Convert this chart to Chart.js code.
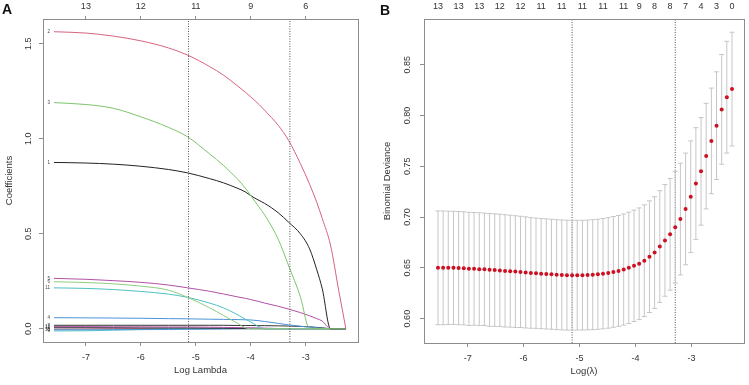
<!DOCTYPE html>
<html>
<head>
<meta charset="utf-8">
<script src="https://cdn.jsdelivr.net/npm/chart.js@4"></script>
<style>
  body { margin: 0; background: #fff; }
  #wrap { position: relative; width: 749px; height: 385px; }
  .panel { position: absolute; top: 0; height: 385px; }
</style>
</head>
<body>
<div id="wrap">
  <div class="panel" style="left:0;width:375px"><canvas id="coefChart" width="375" height="385"></canvas></div>
  <div class="panel" style="left:375px;width:374px"><canvas id="cvChart" width="374" height="385"></canvas></div>
</div>
<script>
// ---- panel A: coefficient paths ----
const coefLogLambda = [-7.58, -7.0, -6.5, -6.0, -5.5, -5.15, -4.75, -4.5, -4.25, -4.1, -4.0, -3.85, -3.75, -3.5, -3.31, -3.1, -2.93, -2.8, -2.7, -2.55, -2.4, -2.27]
const coef1 = [0.875, 0.872, 0.866, 0.855, 0.838, 0.82, 0.79, 0.768, 0.74, 0.72, 0.7, 0.675, 0.66, 0.61, 0.56, 0.5, 0.42, 0.31, 0.21, 0, 0, 0]
const coef2 = [1.563, 1.556, 1.54, 1.515, 1.478, 1.44, 1.38, 1.335, 1.28, 1.245, 1.22, 1.18, 1.15, 1.07, 0.99, 0.87, 0.76, 0.665, 0.58, 0.44, 0.2, 0]
const coef3 = [1.19, 1.18, 1.16, 1.115, 1.06, 1.01, 0.92, 0.86, 0.79, 0.74, 0.7, 0.64, 0.6, 0.47, 0.33, 0.17, 0, 0, 0, 0, 0, 0]
const coef4 = [0.058, 0.057, 0.056, 0.055, 0.053, 0.052, 0.05, 0.049, 0.048, 0.047, 0.046, 0.042, 0.038, 0.028, 0.02, 0.013, 0.008, 0.005, 0.003, 0, 0, 0]
const coef5 = [0.265, 0.26, 0.253, 0.244, 0.23, 0.215, 0.197, 0.183, 0.168, 0.16, 0.153, 0.143, 0.135, 0.118, 0.103, 0.085, 0.068, 0.053, 0.04, 0, 0, 0]
const coef6 = [0.247, 0.243, 0.236, 0.224, 0.203, 0.165, 0.11, 0.07, 0.03, 0.005, 0, 0, 0, 0, 0, 0, 0, 0, 0, 0, 0, 0]
const coef7 = [0.018, 0.018, 0.018, 0.018, 0.018, 0.018, 0.018, 0.018, 0.017, 0.017, 0.017, 0.016, 0.016, 0.015, 0.014, 0.012, 0.01, 0.007, 0.005, 0, 0, 0]
const coef8 = [-0.003, -0.002, 0, 0, 0, 0, 0, 0, 0, 0, 0, 0, 0, 0, 0, 0, 0, 0, 0, 0, 0, 0]
const coef9 = [-0.012, -0.011, -0.008, -0.004, 0, 0, 0, 0, 0, 0, 0, 0, 0, 0, 0, 0, 0, 0, 0, 0, 0, 0]
const coef10 = [-0.006, -0.006, -0.005, -0.005, -0.004, -0.003, -0.002, -0.001, 0, 0, 0, 0, 0, 0, 0, 0, 0, 0, 0, 0, 0, 0]
const coef11 = [0.215, 0.212, 0.206, 0.196, 0.182, 0.165, 0.135, 0.11, 0.075, 0.05, 0.035, 0.01, 0, 0, 0, 0, 0, 0, 0, 0, 0, 0]
const coef12 = [0.011, 0.011, 0.01, 0.01, 0.009, 0.009, 0.008, 0.007, 0.006, 0.005, 0.005, 0.004, 0.003, 0.001, 0, 0, 0, 0, 0, 0, 0, 0]
const coef13 = [0.005, 0.005, 0.005, 0.004, 0.004, 0.004, 0.003, 0.003, 0.002, 0.001, 0.001, 0.001, 0, 0, 0, 0, 0, 0, 0, 0, 0, 0]
const coefXTicks = [-7, -6, -5, -4, -3]
const coefTopLabels = ['13', '12', '11', '9', '6']
const coefYTicks = [0, 0.5, 1, 1.5]

// lambda.min and lambda.1se
const cutoffs = [-5.133, -3.289]

// ---- panel B: cross-validation ----
const cvLogLambda = [-7.530, -7.438, -7.346, -7.253, -7.161, -7.069, -6.977, -6.885, -6.792, -6.700,
  -6.608, -6.516, -6.424, -6.331, -6.239, -6.147, -6.055, -5.963, -5.870, -5.778,
  -5.686, -5.594, -5.502, -5.409, -5.317, -5.225, -5.133, -5.041, -4.948, -4.856,
  -4.764, -4.672, -4.580, -4.487, -4.395, -4.303, -4.211, -4.119, -4.026, -3.934,
  -3.842, -3.750, -3.658, -3.565, -3.473, -3.381, -3.289, -3.197, -3.104, -3.012,
  -2.920, -2.828, -2.736, -2.643, -2.551, -2.459, -2.367, -2.274]
const cvMean = [0.6500, 0.6500, 0.6500, 0.6500, 0.6498, 0.6495, 0.6490, 0.6490, 0.6487, 0.6485,
  0.6480, 0.6478, 0.6475, 0.6470, 0.6467, 0.6463, 0.6460, 0.6455, 0.6450, 0.6447,
  0.6443, 0.6440, 0.6437, 0.6433, 0.6430, 0.6428, 0.6427, 0.6428, 0.6428, 0.6430,
  0.6433, 0.6437, 0.6443, 0.6450, 0.6460, 0.6470, 0.6483, 0.6500, 0.6520, 0.6540,
  0.6570, 0.6610, 0.6650, 0.6710, 0.6770, 0.6830, 0.6900, 0.6980, 0.7080, 0.7200,
  0.7330, 0.7450, 0.7600, 0.7750, 0.7900, 0.8060, 0.8180, 0.8260]
const cvUpper = [0.7060, 0.7060, 0.7058, 0.7057, 0.7055, 0.7052, 0.7047, 0.7045, 0.7042, 0.7038,
  0.7035, 0.7032, 0.7028, 0.7023, 0.7018, 0.7013, 0.7008, 0.7002, 0.6995, 0.6990,
  0.6985, 0.6982, 0.6978, 0.6974, 0.6971, 0.6969, 0.6967, 0.6968, 0.6968, 0.6970,
  0.6974, 0.6979, 0.6986, 0.6994, 0.7005, 0.7016, 0.7030, 0.7048, 0.7068, 0.7090,
  0.7120, 0.7160, 0.7200, 0.7260, 0.7320, 0.7380, 0.7450, 0.7530, 0.7630, 0.7750,
  0.7880, 0.7980, 0.8120, 0.8270, 0.8430, 0.8600, 0.8730, 0.8820]
const cvLower = [0.5940, 0.5940, 0.5942, 0.5943, 0.5941, 0.5938, 0.5933, 0.5935, 0.5932, 0.5932,
  0.5925, 0.5924, 0.5922, 0.5917, 0.5916, 0.5913, 0.5912, 0.5908, 0.5905, 0.5904,
  0.5901, 0.5898, 0.5896, 0.5892, 0.5889, 0.5887, 0.5887, 0.5888, 0.5888, 0.5890,
  0.5892, 0.5895, 0.5900, 0.5906, 0.5915, 0.5924, 0.5936, 0.5952, 0.5972, 0.5990,
  0.6020, 0.6060, 0.6100, 0.6160, 0.6220, 0.6280, 0.6350, 0.6430, 0.6530, 0.6650,
  0.6780, 0.6920, 0.7080, 0.7230, 0.7370, 0.7520, 0.7630, 0.7700]
const cvTopIndex = [0, 4, 8, 12, 16, 20, 24, 28, 32, 36, 39, 42, 45, 48, 51, 54, 57]
const cvTopLabels = ['13', '13', '13', '12', '12', '11', '11', '11', '11', '11', '9', '8', '8', '7', '4', '3', '0']
const cvXTicks = [-7, -6, -5, -4, -3]
const cvYTicks = [0.6, 0.65, 0.7, 0.75, 0.8, 0.85]

const FONT = '"Liberation Sans", Arial, sans-serif'
const TXT = '#333'

// box round the plot, R style
const frameBox = {
  id: 'frameBox',
  afterDraw(chart) {
    const { ctx, chartArea: a } = chart
    ctx.save()
    ctx.strokeStyle = '#8c8c8c'
    ctx.lineWidth = 1
    ctx.strokeRect(Math.round(a.left) + 0.5, Math.round(a.top) + 0.5,
      Math.round(a.right - a.left), Math.round(a.bottom - a.top))
    ctx.restore()
  }
}

// y tick labels turned 90deg, plus the panel letter
const sideText = {
  id: 'sideText',
  afterDraw(chart, args, opts) {
    const ctx = chart.ctx
    const y = chart.scales.y
    ctx.save()
    ctx.font = '9px ' + FONT
    ctx.fillStyle = TXT
    ctx.textAlign = 'center'
    ctx.textBaseline = 'middle'
    y.ticks.forEach((t) => {
      const py = y.getPixelForValue(t.value)
      ctx.save()
      ctx.translate(opts.x, py)
      ctx.rotate(-Math.PI / 2)
      ctx.fillText(t.value.toFixed(opts.digits), 0, 0)
      ctx.restore()
    })
    ctx.font = 'bold 14px ' + FONT
    ctx.fillStyle = '#111'
    ctx.textAlign = 'left'
    ctx.textBaseline = 'alphabetic'
    ctx.fillText(opts.letter, opts.lx, opts.ly)
    ctx.restore()
  }
}

// tiny variable numbers at the left end of each path
const pathTags = {
  id: 'pathTags',
  afterDatasetsDraw(chart) {
    const ctx = chart.ctx
    ctx.save()
    ctx.font = '4.5px ' + FONT
    ctx.fillStyle = '#444'
    ctx.textAlign = 'right'
    ctx.textBaseline = 'middle'
    chart.data.datasets.forEach((ds, i) => {
      if (!ds.tag) return
      const p = chart.getDatasetMeta(i).data[0]
      ctx.fillText(ds.tag, p.x - 4, p.y)
    })
    ctx.restore()
  }
}

function fixedTicks(list) {
  return (axis) => { axis.ticks = list.map((v) => ({ value: v })) }
}

function cutoffLines(ymin, ymax) {
  return cutoffs.map((v) => ({
    data: [{ x: v, y: ymin }, { x: v, y: ymax }],
    showLine: true,
    borderColor: '#555',
    borderWidth: 1,
    borderDash: [1, 1.5],
    pointRadius: 0
  }))
}

// ---- chart A ----
const coefSeries = [
  { tag: '2', values: coef2, color: '#D6637C' },
  { tag: '3', values: coef3, color: '#7CC46C' },
  { tag: '1', values: coef1, color: '#222222' },
  { tag: '5', values: coef5, color: '#B04FA6' },
  { tag: '6', values: coef6, color: '#8ECB7E' },
  { tag: '11', values: coef11, color: '#4FBFC2' },
  { tag: '4', values: coef4, color: '#4A93D6' },
  { tag: '7', values: coef7, color: '#333333' },
  { tag: '12', values: coef12, color: '#B04FA6' },
  { tag: '13', values: coef13, color: '#222222' },
  { tag: '10', values: coef10, color: '#4A93D6' },
  { tag: '9', values: coef9, color: '#52C9CC' },
  { tag: '8', values: coef8, color: '#D6637C' }
]

const coefMin = -0.07, coefMax = 1.63

new Chart(document.getElementById('coefChart'), {
  type: 'scatter',
  data: {
    datasets: cutoffLines(coefMin, coefMax).concat(coefSeries.map((s) => ({
      tag: s.tag,
      data: s.values.map((v, i) => ({ x: coefLogLambda[i], y: v })),
      showLine: true,
      borderColor: s.color,
      borderWidth: 1,
      pointRadius: 0,
      cubicInterpolationMode: 'monotone'
    })))
  },
  options: {
    responsive: false,
    animation: false,
    events: [],
    layout: { padding: { left: 0, top: 0, right: 17, bottom: 0 } },
    plugins: {
      legend: { display: false },
      tooltip: { enabled: false },
      sideText: { x: 29, digits: 1, letter: 'A', lx: 2, ly: 14 }
    },
    scales: {
      x: {
        type: 'linear', position: 'bottom', min: -7.78, max: -2.05,
        afterBuildTicks: fixedTicks(coefXTicks),
        afterFit: (s) => { s.height = 43 },
        border: { display: false },
        grid: { drawOnChartArea: false, drawTicks: true, tickLength: 4, color: '#8c8c8c' },
        ticks: { color: TXT, font: { size: 9, family: FONT }, padding: 6, maxRotation: 0 },
        title: { display: true, text: 'Log Lambda', color: TXT, font: { size: 9.5, family: FONT }, padding: { top: 0, bottom: 9 } }
      },
      xTop: {
        axis: 'x', type: 'linear', position: 'top', min: -7.78, max: -2.05,
        afterBuildTicks: fixedTicks(coefXTicks),
        afterFit: (s) => { s.height = 19 },
        border: { display: false },
        grid: { drawOnChartArea: false, drawTicks: true, tickLength: 3, color: '#8c8c8c' },
        ticks: {
          color: TXT, font: { size: 9, family: FONT }, padding: 4, maxRotation: 0, autoSkip: false,
          callback: (v, i) => coefTopLabels[i]
        }
      },
      y: {
        type: 'linear', position: 'left', min: coefMin, max: coefMax,
        afterBuildTicks: fixedTicks(coefYTicks),
        afterFit: (s) => { s.width = 43 },
        border: { display: false },
        grid: { drawOnChartArea: false, drawTicks: true, tickLength: 4, color: '#8c8c8c' },
        ticks: { display: false },
        title: { display: true, text: 'Coefficients', color: TXT, font: { size: 9.5, family: FONT }, padding: { top: 4, bottom: 0 } }
      }
    }
  },
  plugins: [frameBox, sideText, pathTags]
})

// ---- chart B ----
// first dataset is painted last, so the red dots go first
let whiskers = []
cvLogLambda.forEach((x, i) => {
  whiskers.push({ x: x, y: cvLower[i] }, { x: x, y: cvUpper[i] }, { x: x, y: null })
})
const cvMin = 0.576, cvMax = 0.895

new Chart(document.getElementById('cvChart'), {
  type: 'scatter',
  data: {
    datasets: [
      {
        data: cvMean.map((v, i) => ({ x: cvLogLambda[i], y: v })),
        pointRadius: 2,
        backgroundColor: '#CC1122',
        borderWidth: 0
      },
      {
        data: whiskers,
        showLine: true,
        spanGaps: false,
        borderColor: '#c6c6c6',
        borderWidth: 1,
        pointRadius: 0
      },
      {
        data: cvUpper.map((v, i) => ({ x: cvLogLambda[i], y: v })),
        pointStyle: 'line',
        pointRadius: 2.5,
        borderColor: '#c6c6c6',
        borderWidth: 1
      },
      {
        data: cvLower.map((v, i) => ({ x: cvLogLambda[i], y: v })),
        pointStyle: 'line',
        pointRadius: 2.5,
        borderColor: '#c6c6c6',
        borderWidth: 1
      }
    ].concat(cutoffLines(cvMin, cvMax))
  },
  options: {
    responsive: false,
    animation: false,
    events: [],
    layout: { padding: { left: 0, top: 0, right: 4, bottom: 0 } },
    plugins: {
      legend: { display: false },
      tooltip: { enabled: false },
      sideText: { x: 33, digits: 2, letter: 'B', lx: 5, ly: 15 }
    },
    scales: {
      x: {
        type: 'linear', position: 'bottom', min: -7.78, max: -2.06,
        afterBuildTicks: fixedTicks(cvXTicks),
        afterFit: (s) => { s.height = 42 },
        border: { display: false },
        grid: { drawOnChartArea: false, drawTicks: true, tickLength: 4, color: '#8c8c8c' },
        ticks: { color: TXT, font: { size: 9, family: FONT }, padding: 6, maxRotation: 0 },
        title: { display: true, text: 'Log(λ)', color: TXT, font: { size: 9.5, family: FONT }, padding: { top: 0, bottom: 8 } }
      },
      xTop: {
        axis: 'x', type: 'linear', position: 'top', min: -7.78, max: -2.06,
        afterBuildTicks: fixedTicks(cvTopIndex.map((k) => cvLogLambda[k])),
        afterFit: (s) => { s.height = 19 },
        border: { display: false },
        grid: { display: false, drawTicks: false },
        ticks: {
          color: TXT, font: { size: 9, family: FONT }, padding: 7, maxRotation: 0, autoSkip: false,
          callback: (v, i) => cvTopLabels[i]
        }
      },
      y: {
        type: 'linear', position: 'left', min: cvMin, max: cvMax,
        afterBuildTicks: fixedTicks(cvYTicks),
        afterFit: (s) => { s.width = 49 },
        border: { display: false },
        grid: { drawOnChartArea: false, drawTicks: true, tickLength: 4, color: '#8c8c8c' },
        ticks: { display: false },
        title: { display: true, text: 'Binomial Deviance', color: TXT, font: { size: 9.5, family: FONT }, padding: { top: 7, bottom: 0 } }
      }
    }
  },
  plugins: [frameBox, sideText]
})
</script>
</body>
</html>
